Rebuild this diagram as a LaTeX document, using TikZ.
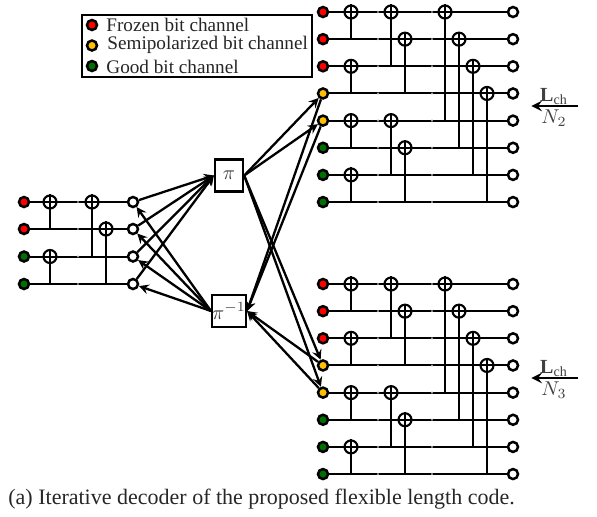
\documentclass[tikz,border=0pt]{standalone}
\usepackage{fontspec}
\setmainfont{Liberation Serif}
\usepackage{xcolor}
\usetikzlibrary{positioning}
\definecolor{frozenred}{RGB}{255,0,0}
\definecolor{semiyellow}{RGB}{255,192,0}
\definecolor{goodgreen}{RGB}{0,110,0}

\begin{document}
\begin{tikzpicture}[
    x=0.5pt, y=-0.5pt,
    wire/.style={draw, line width=1pt},
    link/.style={draw, line width=1.15pt, ->, >=stealth},
    bitdot/.style={circle, draw, line width=1.25pt, inner sep=0pt, minimum size=5pt},
    outdot/.style={bitdot, fill=white},
    xorgate/.style={circle, draw, line width=1.05pt, inner sep=0pt, minimum size=6.5pt},
    permbox/.style={rectangle, draw, line width=1.2pt, inner sep=0pt, text=black!75},
    legendtext/.style={inner sep=0pt, anchor=west, font=\fontsize{9.6}{10}\selectfont, text=black!85}
]
\useasboundingbox (0,0) rectangle (597,516);

% Legend
\node (legendbox) [draw, line width=1.2pt, minimum width=115pt, minimum height=31pt, inner sep=0pt] at (197,46) {};
\node (frozendot) [bitdot, fill=frozenred] at (92,25) {};
\node (semidot) [bitdot, fill=semiyellow] at (92,45.5) {};
\node (gooddot) [bitdot, fill=goodgreen] at (92,66) {};
\node (frozentext) [legendtext] at (106,25) {Frozen bit channel};
\node (semitext) [legendtext] at (107,45) {Semipolarized bit channel};
\node (goodtext) [legendtext] at (106,67) {Good bit channel};

% Outer code
\foreach \row/\ypos/\col in {0/202/frozenred, 1/229/frozenred, 2/256.5/goodgreen, 3/284/goodgreen}{
    \node (as\row) [bitdot, fill=\col] at (24,\ypos) {};
    \node (ae\row) [outdot] at (133,\ypos) {};
    \draw[wire] (as\row) -- (ae\row);
    \fill[black!40] (78,\ypos) circle (0.6pt);
}
\foreach \high/\low/\xpos in {0/1/50, 0/2/92, 1/3/106, 2/3/50}{
    \path (\xpos,0) coordinate (xtmp);
    \node (ax\high\low) [xorgate] at (xtmp |- as\high) {};
    \coordinate (aj\high\low) at (xtmp |- as\low);
    \draw[wire] (ax\high\low.north) -- (aj\high\low);
}

% Inner codes
\foreach \blk/\offset in {t/12, b/284}{
    \foreach \row/\col in {0/frozenred, 1/frozenred, 2/frozenred, 3/semiyellow, 4/semiyellow, 5/goodgreen, 6/goodgreen, 7/goodgreen}{
        \node (\blk s\row) [bitdot, fill=\col] at (323,{\offset+27.15*\row}) {};
        \node (\blk e\row) [outdot] at (513,{\offset+27.15*\row}) {};
        \draw[wire] (\blk s\row) -- (\blk e\row);
        \fill[black!40] (378,{\offset+27.15*\row}) circle (0.6pt);
        \fill[black!40] (432,{\offset+27.15*\row}) circle (0.6pt);
    }
    \foreach \high/\low/\xpos in {0/1/351, 0/2/391, 0/4/445, 1/3/405, 1/5/459, 2/3/351, 2/6/473, 3/7/487, 4/5/351, 4/6/391, 5/7/405, 6/7/351}{
        \path (\xpos,0) coordinate (xtmp);
        \node (\blk x\high\low) [xorgate] at (xtmp |- \blk s\high) {};
        \coordinate (\blk j\high\low) at (xtmp |- \blk s\low);
        \draw[wire] (\blk x\high\low.north) -- (\blk j\high\low);
    }
}

% Interleavers
\node (perm) [permbox, minimum width=14pt, minimum height=16pt] at (229,175.5) {$\pi$};
\node (invperm) [permbox, minimum width=16pt, minimum height=16pt] at (229,311) {$\pi^{-1}$};

% Links
\foreach \row in {0,1,2,3}{
    \draw[link] (ae\row) -- (perm.west);
    \draw[link] (invperm.west) -- (ae\row);
}
\foreach \blk in {t,b}{
    \foreach \row in {3,4}{
        \draw[link] (perm.east) -- (\blk s\row);
        \draw[link] (\blk s\row) -- (invperm.east);
    }
}

% Channel inputs
\coordinate (lchtop) at (578,106);
\coordinate (lchbot) at (578,378);
\node (lchtopend) [inner sep=0pt] at (530,106) {};
\node (lchbotend) [inner sep=0pt] at (530,378) {};
\draw[link, line width=1.3pt] (lchtop) -- (lchtopend);
\draw[link, line width=1.3pt] (lchbot) -- (lchbotend);
\node (lchtoptext) [inner sep=0pt, above=0.3pt of lchtop, xshift=-12pt, text=black!75] {$\mathbf{L}_{\mathrm{ch}}$};
\node (ntwo) [inner sep=0pt, below=1.5pt of lchtop, xshift=-12pt, text=black!75] {$N_2$};
\node (lchbottext) [inner sep=0pt, above=0.3pt of lchbot, xshift=-12pt, text=black!75] {$\mathbf{L}_{\mathrm{ch}}$};
\node (nthree) [inner sep=0pt, below=1.5pt of lchbot, xshift=-12pt, text=black!75] {$N_3$};

% Caption
\node (caption) [inner sep=0pt, anchor=west, font=\fontsize{11}{13}\selectfont, text=black!85] at (8,499) {(a) Iterative decoder of the proposed flexible length code.};
\end{tikzpicture}
\end{document}
